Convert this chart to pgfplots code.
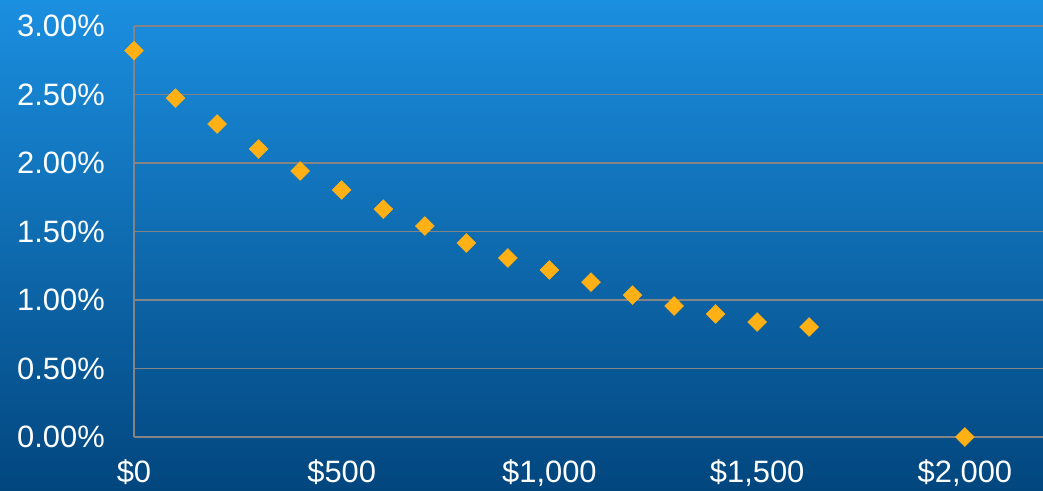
\documentclass[border=0pt]{standalone}
\usepackage{fontspec}
\setmainfont{Liberation Sans}
\usepackage{pgfplots}
\pgfplotsset{compat=1.18}
\definecolor{bgtop}{RGB}{27,143,224}
\definecolor{bgbot}{RGB}{2,70,126}
\definecolor{gridgray}{RGB}{132,132,132}
\definecolor{mk}{RGB}{255,176,20}
\begin{document}
\begin{tikzpicture}
\shade[top color=bgtop,bottom color=bgbot] (0bp,0bp) rectangle (1043bp,491bp);
\path[use as bounding box] (0bp,0bp) rectangle (1043bp,491bp);
\begin{axis}[
  at={(134bp,54bp)}, anchor=south west,
  scale only axis, width=909bp, height=411bp,
  xmin=0, xmax=2188, ymin=0, ymax=3,
  clip=false,
  axis x line=bottom, axis y line=left,
  axis line style={draw=gridgray, line width=1.2bp, -},
  major tick length=0pt,
  ymajorgrids, grid style={draw=gridgray, line width=1.2bp},
  xtick={0,500,1000,1500,2000},
  xticklabels={\$0,\$500,{\$1,000},{\$1,500},{\$2,000}},
  ytick={0,0.5,1,1.5,2,2.5,3},
  yticklabels={0.00\%,0.50\%,1.00\%,1.50\%,2.00\%,2.50\%,3.00\%},
  tick label style={font=\fontsize{31}{36}\selectfont, text=white, inner sep=0pt},
  yticklabel style={anchor=east, xshift=-29bp},
  xticklabel style={anchor=north, yshift=-22bp},
]
\addplot[only marks, mark=square*, mark size=6.7bp, mark options={rotate=45, fill=mk, draw=mk}]
coordinates {
(0,2.82) (100,2.474) (200,2.285) (300,2.102) (400,1.942) (500,1.803)
(600,1.664) (700,1.540) (800,1.416) (900,1.307) (1000,1.219) (1100,1.131)
(1200,1.036) (1300,0.956) (1400,0.898) (1500,0.839) (1625,0.803) (2000,0)
};
\end{axis}
\end{tikzpicture}
\end{document}
